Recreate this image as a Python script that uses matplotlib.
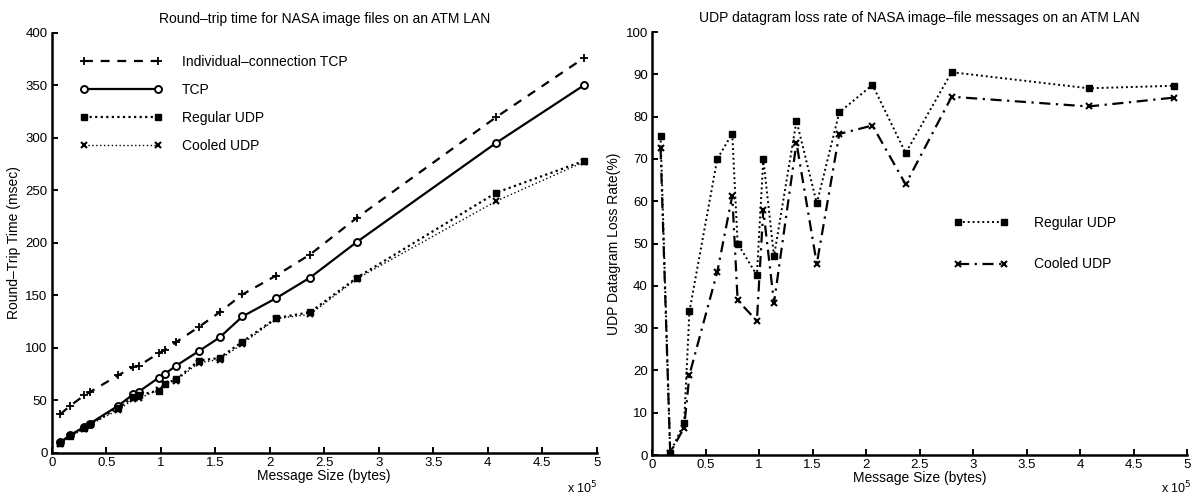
import numpy as np
import matplotlib
matplotlib.use("Agg")
from matplotlib import pyplot

# message sizes in bytes
msg_size = [8000, 17000, 30000, 35000, 61000, 75000, 80000, 98000, 104000,
            114000, 135000, 154000, 175000, 206000, 237000, 280000, 408000, 488000]

# round-trip times (msec)
rtt_indiv_tcp = [37, 45, 55, 58, 74, 82, 83, 95, 98, 105.5, 120, 134, 151,
                 169, 189, 224, 320, 376]
rtt_tcp = [10.5, 17, 25, 28, 45, 56, 58.5, 71.5, 75.5, 83, 97, 110, 130,
           147.5, 167, 201, 295.5, 350]
rtt_reg_udp = [9.5, 16.5, 24, 27.5, 43, 53, 55, 59.5, 66, 70, 88, 90.5, 106,
               128.5, 134, 167, 248, 278]
rtt_cooled_udp = [9, 16, 23, 27, 41, 51, 52, 60, 66, 69, 86, 89, 104,
                  128, 132, 166, 240, 277]

# datagram loss rate (%)
loss_reg_udp = [75.5, 0.5, 7.6, 34, 70, 76, 50, 42.5, 70, 47, 79, 59.5, 81,
                87.5, 71.4, 90.5, 86.7, 87.3]
loss_cooled_udp = [72.5, 0.5, 6.5, 19, 43.3, 61.3, 36.6, 31.7, 58, 36, 73.8,
                   45.2, 75.9, 77.9, 64, 84.7, 82.4, 84.5]

pyplot.rcParams['font.family'] = ['Liberation Sans', 'DejaVu Sans']
pyplot.rcParams['font.size'] = 10

x = np.array(msg_size) / 1e5

fig = pyplot.figure(figsize=(11.97, 4.98), dpi=100)
ax1 = fig.add_axes([0.0432, 0.0904, 0.4553, 0.8434])
ax2 = fig.add_axes([0.5447, 0.0863, 0.4470, 0.8494])

def style_axis(ax):
    for side in ('top', 'right'):
        ax.spines[side].set_visible(False)
    for side in ('left', 'bottom'):
        ax.spines[side].set_linewidth(1.8)
    ax.tick_params(direction='in', length=4, width=1.4, labelsize=9.5, pad=3)
    ax.set_xlim(0, 5)
    ax.set_xticks(np.arange(0, 5.01, 0.5))
    ax.set_xticklabels(['0', '0.5', '1', '1.5', '2', '2.5', '3', '3.5', '4', '4.5', '5'])
    ax.set_xlabel("Message Size (bytes)", fontsize=10, labelpad=0)

# left: round-trip time
ax1.plot(x, rtt_indiv_tcp, color='k', linestyle=(0, (4, 3.5)), linewidth=1.6,
         marker='+', markersize=6, markeredgewidth=1.3, label="Individual\u2013connection TCP")
ax1.plot(x, rtt_tcp, color='k', linestyle='-', linewidth=1.6,
         marker='o', markersize=5, markerfacecolor='white', markeredgewidth=1.4, label="TCP")
ax1.plot(x, rtt_reg_udp, color='k', linestyle=(0, (1, 1.5)), linewidth=1.6,
         marker='s', markersize=5, label="Regular UDP")
ax1.plot(x, rtt_cooled_udp, color='k', linestyle=(0, (1, 1.8)), linewidth=1.0,
         marker='x', markersize=5, markeredgewidth=1.5, label="Cooled UDP")
style_axis(ax1)
ax1.set_ylim(0, 400)
ax1.set_yticks(np.arange(0, 401, 50))
ax1.set_ylabel("Round\u2013Trip Time (msec)", fontsize=10, labelpad=3)
ax1.set_title("Round\u2013trip time for NASA image files on an ATM LAN", fontsize=10, pad=7)
ax1.legend(loc='upper left', bbox_to_anchor=(0.052, 0.948), frameon=False,
           borderpad=0, borderaxespad=0, handlelength=5.9, labelspacing=1.02,
           fontsize=10, handletextpad=1.45, numpoints=2)
fig.text(598 / 1197, 0.02, "x 10$^5$", fontsize=9, ha='right', va='center')

# right: datagram loss rate
ax2.plot(x, loss_reg_udp, color='k', linestyle=(0, (1, 1.5)), linewidth=1.4,
         marker='s', markersize=5, label="Regular UDP")
ax2.plot(x, loss_cooled_udp, color='k', linestyle=(0, (5, 2.5, 1, 2.5)), linewidth=1.6,
         marker='x', markersize=5, markeredgewidth=1.5, label="Cooled UDP")
style_axis(ax2)
ax2.set_ylim(0, 100)
ax2.set_yticks(np.arange(0, 101, 10))
ax2.set_ylabel("UDP Datagram Loss Rate(%)", fontsize=10, labelpad=3)
ax2.set_title("UDP datagram loss rate of NASA image\u2013file messages on an ATM LAN", fontsize=10, pad=7)
ax2.legend(loc='center left', bbox_to_anchor=(0.564, 0.5), frameon=False,
           borderpad=0, borderaxespad=0, handlelength=3.9, labelspacing=2.0,
           fontsize=10, handletextpad=1.9, numpoints=2)
fig.text(1192 / 1197, 0.02, "x 10$^5$", fontsize=9, ha='right', va='center')

pyplot.savefig("out.png", dpi=100)
